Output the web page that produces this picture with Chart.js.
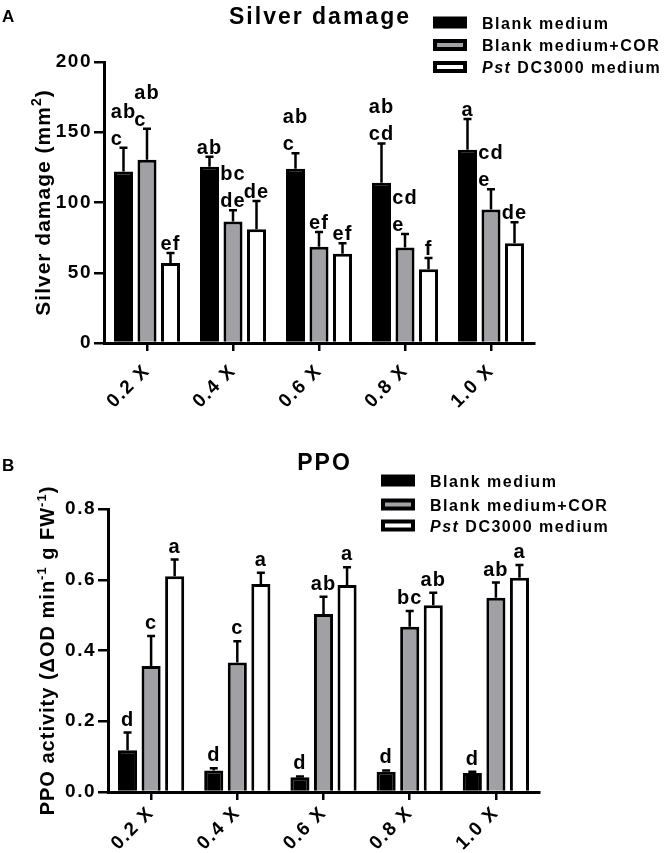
<!DOCTYPE html>
<html>
<head>
<meta charset="utf-8">
<script src="https://cdn.jsdelivr.net/npm/chart.js@4.4.1/dist/chart.umd.min.js"></script>
<style>
  html, body { margin: 0; padding: 0; background: #fff; }
  #chartA { position: absolute; left: 0; top: 0; }
  #chartB { position: absolute; left: 0; top: 420px; }
</style>
</head>
<body>
<canvas id="chartA" width="666" height="420"></canvas>
<canvas id="chartB" width="666" height="433"></canvas>
<script>
// ===== DATA =====
const doses = ['0.2 X', '0.4 X', '0.6 X', '0.8 X', '1.0 X'];
const seriesNames = ['Blank medium', 'Blank medium+COR', 'Pst DC3000 medium'];

// A: silver damage (mm2)
const silverBlank    = [122, 125.5, 124, 114, 137.5];
const silverCor      = [130.5, 86.5, 68.5, 68, 95];
const silverPst      = [57, 81, 63.5, 52.5, 71];
const silverBlankErr = [17, 7, 11, 28, 22];
const silverCorErr   = [22, 8, 10.5, 9.5, 14.5];
const silverPstErr   = [7, 20, 7.5, 8, 15];
const silverBlankSig = [['ab', 'c'], ['ab'], ['ab', 'c'], ['ab', 'cd'], ['a']];
const silverCorSig   = [['ab', 'c'], ['bc', 'de'], ['ef'], ['cd', 'e'], ['cd', 'e']];
const silverPstSig   = [['ef'], ['de'], ['ef'], ['f'], ['de']];

// B: PPO activity
const ppoBlank    = [0.118, 0.061, 0.042, 0.057, 0.054];
const ppoCor      = [0.356, 0.366, 0.503, 0.467, 0.549];
const ppoPst      = [0.610, 0.588, 0.585, 0.528, 0.606];
const ppoBlankErr = [0.05, 0.006, 0.002, 0.004, 0.003];
const ppoCorErr   = [0.085, 0.06, 0.049, 0.045, 0.043];
const ppoPstErr   = [0.047, 0.032, 0.05, 0.035, 0.036];
const ppoBlankSig = [['d'], ['d'], ['d'], ['d'], ['d']];
const ppoCorSig   = [['c'], ['c'], ['ab'], ['bc'], ['ab']];
const ppoPstSig   = [['a'], ['a'], ['a'], ['ab'], ['a']];

const FONT = '"Liberation Sans", Arial, Helvetica, sans-serif';
const fills = ['#000000', '#a1a1a5', '#ffffff'];

// ===== PLUGIN: title, legend, y title, error bars, letters =====
function drawRotatedTitle(ctx, parts, cx, cy, size) {
  const mainFont = `bold ${size}px ${FONT}`;
  const supFont = `bold ${Math.round(size * 0.65)}px ${FONT}`;
  ctx.letterSpacing = '1px';
  let total = 0;
  parts.forEach(p => {
    ctx.font = p.sup ? supFont : mainFont;
    p.w = ctx.measureText(p.text).width;
    total += p.w;
  });
  ctx.save();
  ctx.translate(cx, cy);
  ctx.rotate(-Math.PI / 2);
  ctx.textAlign = 'left';
  ctx.textBaseline = 'alphabetic';
  let x = -total / 2;
  const base = size * 0.36;
  parts.forEach(p => {
    ctx.font = p.sup ? supFont : mainFont;
    ctx.fillText(p.text, x, p.sup ? base - size * 0.42 : base);
    x += p.w;
  });
  ctx.restore();
}

const panelPlugin = {
  id: 'panel',
  beforeUpdate(chart) { chart.ctx.letterSpacing = '1.5px'; },
  beforeDraw(chart) { chart.ctx.letterSpacing = '1.5px'; },
  afterDatasetsDraw(chart, args, opts) {
    const ctx = chart.ctx;
    const yScale = chart.scales.y;
    ctx.save();
    ctx.strokeStyle = '#000';
    ctx.fillStyle = '#000';
    ctx.lineWidth = 2.5;
    ctx.font = `bold 20px ${FONT}`;
    ctx.letterSpacing = '1px';
    ctx.textAlign = 'left';
    ctx.textBaseline = 'alphabetic';
    chart.data.datasets.forEach((ds, i) => {
      const meta = chart.getDatasetMeta(i);
      meta.data.forEach((bar, j) => {
        const top = yScale.getPixelForValue(ds.data[j] + ds.errors[j]);
        ctx.beginPath();
        ctx.moveTo(bar.x, bar.y);
        ctx.lineTo(bar.x, top);
        ctx.moveTo(bar.x - 4, top);
        ctx.lineTo(bar.x + 4, top);
        ctx.stroke();
        const lines = ds.sig[j];
        const w = Math.max(...lines.map(t => ctx.measureText(t).width));
        const x0 = bar.x - w / 2;
        lines.forEach((t, k) => {
          const y = top - opts.sigGap - (lines.length - 1 - k) * opts.sigPitch;
          ctx.fillText(t, x0, y);
        });
      });
    });
    ctx.restore();
  },
  afterDraw(chart, args, opts) {
    const ctx = chart.ctx;
    const area = chart.chartArea;
    ctx.save();
    ctx.fillStyle = '#000';
    ctx.textBaseline = 'alphabetic';

    // panel letter
    ctx.letterSpacing = '0px';
    ctx.textAlign = 'left';
    ctx.font = `bold 17px ${FONT}`;
    ctx.fillText(opts.letter, 2, opts.letterY);

    // title
    ctx.letterSpacing = '2px';
    ctx.textAlign = 'center';
    ctx.font = `bold 23px ${FONT}`;
    ctx.fillText(opts.title, (area.left + area.right) / 2 + 1, opts.titleY);

    // legend
    ctx.textAlign = 'left';
    chart.data.datasets.forEach((ds, i) => {
      const yc = opts.legendY[i];
      const bx = opts.legendX;
      ctx.fillStyle = '#000';
      ctx.fillRect(bx, yc - 6, 34, 12);
      if (ds.backgroundColor !== '#000000') {
        ctx.fillStyle = ds.backgroundColor;
        ctx.fillRect(bx + 4, yc - 2, 26, 4);
      }
      ctx.fillStyle = '#000';
      ctx.letterSpacing = '1.5px';
      let tx = bx + 49;
      let label = ds.label;
      if (label.startsWith('Pst ')) {
        ctx.font = `italic bold 16px ${FONT}`;
        ctx.fillText('Pst', tx, yc + 6);
        tx += ctx.measureText('Pst').width;
        label = label.slice(3);
      }
      ctx.font = `bold 16px ${FONT}`;
      ctx.fillText(label, tx, yc + 6);
    });

    // y axis title
    ctx.fillStyle = '#000';
    drawRotatedTitle(ctx, opts.yTitle, opts.yTitleX, (area.top + area.bottom) / 2, opts.yTitleSize);
    ctx.restore();
  }
};

function makeDatasets(values, errors, sigs) {
  return values.map((v, i) => ({
    label: seriesNames[i],
    data: v,
    errors: errors[i],
    sig: sigs[i],
    backgroundColor: fills[i],
    borderColor: '#000000',
    borderWidth: 3,
    borderSkipped: 'start',
    categoryPercentage: 0.82,
    barPercentage: 0.81,
  }));
}

function makeChart(id, cfg) {
  return new Chart(document.getElementById(id), {
    type: 'bar',
    data: {
      labels: doses,
      datasets: makeDatasets(cfg.values, cfg.errors, cfg.sigs)
    },
    plugins: [panelPlugin],
    options: {
      responsive: false,
      animation: false,
      layout: { padding: cfg.padding },
      plugins: {
        legend: { display: false },
        tooltip: { enabled: false },
        panel: cfg.panel
      },
      scales: {
        x: {
          grid: { display: true, offset: false, drawOnChartArea: false, color: '#000', lineWidth: 2.5, tickLength: 8 },
          border: { display: true, color: '#000', width: 3 },
          ticks: {
            color: '#000',
            font: { family: FONT, size: 19, weight: 'bold' },
            minRotation: 45, maxRotation: 45, autoSkip: false, padding: cfg.xPad
          },
          afterFit: s => { s.height = cfg.xHeight; }
        },
        y: {
          min: 0, max: cfg.max,
          grid: { drawOnChartArea: false, color: '#000', lineWidth: 2.5, tickLength: 10 },
          border: { display: true, color: '#000', width: 3 },
          ticks: {
            stepSize: cfg.step,
            color: '#000',
            padding: 2,
            font: { family: FONT, size: 19, weight: 'bold' },
            callback: cfg.tickFmt
          },
          afterFit: s => { s.width = cfg.yWidth; }
        }
      }
    }
  });
}

makeChart('chartA', {
  values: [silverBlank, silverCor, silverPst],
  errors: [silverBlankErr, silverCorErr, silverPstErr],
  sigs: [silverBlankSig, silverCorSig, silverPstSig],
  padding: { left: 0, top: 62, right: 132, bottom: 0 },
  xHeight: 77, yWidth: 104, xPad: 9,
  max: 200, step: 50,
  tickFmt: v => v,
  panel: {
    letter: 'A', letterY: 22,
    title: 'Silver damage', titleY: 24,
    legendX: 433, legendY: [22.5, 45, 67],
    yTitle: [{ text: 'Silver damage (mm' }, { text: '2', sup: true }, { text: ')' }],
    yTitleX: 42, yTitleSize: 21,
    sigGap: 3, sigPitch: 27
  }
});

makeChart('chartB', {
  values: [ppoBlank, ppoCor, ppoPst],
  errors: [ppoBlankErr, ppoCorErr, ppoPstErr],
  sigs: [ppoBlankSig, ppoCorSig, ppoPstSig],
  padding: { left: 0, top: 89, right: 127, bottom: 0 },
  xHeight: 61, yWidth: 108, xPad: 2,
  max: 0.8, step: 0.2,
  tickFmt: v => v.toFixed(1),
  panel: {
    letter: 'B', letterY: 51,
    title: 'PPO', titleY: 50,
    legendX: 381, legendY: [60.5, 84.5, 105.5],
    yTitle: [{ text: 'PPO activity (\u0394OD min' }, { text: '-1', sup: true }, { text: ' g FW' }, { text: '-1', sup: true }, { text: ')' }],
    yTitleX: 47, yTitleSize: 20,
    sigGap: 7, sigPitch: 27
  }
});
</script>
</body>
</html>
